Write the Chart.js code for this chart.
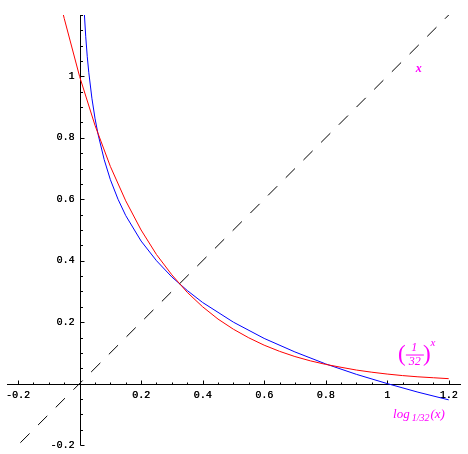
<!DOCTYPE html>
<html>
<head>
<meta charset="utf-8">
<script src="https://cdn.jsdelivr.net/npm/chart.js@4.4.0/dist/chart.umd.min.js"></script>
<style>
  body { margin: 0; background: #fff; }
  canvas { display: block; }
</style>
</head>
<body>
<canvas id="plot" width="468" height="454"></canvas>
<script>
// (1/32)^x
var redX = [-0.055, -0.05, 0, 0.05, 0.1, 0.15, 0.2, 0.25, 0.3, 0.35, 0.4, 0.45, 0.5, 0.55, 0.6,
            0.65, 0.7, 0.75, 0.8, 0.85, 0.9, 0.95, 1.0, 1.05, 1.1, 1.15, 1.2];
var redY = [1.210, 1.189, 1, 0.841, 0.707, 0.595, 0.5, 0.420, 0.354, 0.297, 0.25, 0.210, 0.177, 0.149, 0.125,
            0.105, 0.088, 0.074, 0.0625, 0.053, 0.044, 0.037, 0.031, 0.026, 0.022, 0.019, 0.016];

// log_{1/32}(x)
var blueX = [0.015, 0.02, 0.025, 0.03, 0.04, 0.05, 0.06, 0.08, 0.1, 0.125, 0.15, 0.2, 0.25, 0.3,
             0.35, 0.4, 0.5, 0.6, 0.7, 0.8, 0.9, 1.0, 1.1, 1.2];
var blueY = [1.212, 1.129, 1.064, 1.012, 0.929, 0.864, 0.812, 0.729, 0.664, 0.6, 0.547, 0.464, 0.4, 0.347,
             0.303, 0.264, 0.2, 0.147, 0.103, 0.064, 0.030, 0, -0.028, -0.053];

// y = x, dashed
var diagX = [-0.25, 1.25];
var diagY = [-0.25, 1.25];

var xTicks = [-0.2, 0.2, 0.4, 0.6, 0.8, 1, 1.2];
var yTicks = [-0.2, 0.2, 0.4, 0.6, 0.8, 1];
var minorStep = 0.05;

var magenta = '#ff00ff';

function pts(xs, ys) {
  var out = [];
  for (var i = 0; i < xs.length; i++) out.push({ x: xs[i], y: ys[i] });
  return out;
}

var axesPlugin = {
  id: 'axes',
  beforeDatasetsDraw: function (chart) {
    var c = chart.ctx, xs = chart.scales.x, ys = chart.scales.y;
    var x0 = Math.round(xs.getPixelForValue(0)) + 0.5;
    var y0 = Math.round(ys.getPixelForValue(0)) + 0.5;
    c.save();
    c.strokeStyle = '#000';
    c.lineWidth = 1;
    c.beginPath();
    c.moveTo(xs.left, y0); c.lineTo(xs.right, y0);
    c.moveTo(x0, ys.top); c.lineTo(x0, ys.bottom);
    // minor ticks
    var v, p;
    for (v = -0.2; v <= 1.2001; v += minorStep) {
      if (Math.abs(v) < 1e-6) continue;
      p = Math.round(xs.getPixelForValue(v)) + 0.5;
      c.moveTo(p, y0); c.lineTo(p, y0 - 2);
      p = Math.round(ys.getPixelForValue(v)) + 0.5;
      c.moveTo(x0, p); c.lineTo(x0 + 2.5, p);
    }
    // major ticks
    xTicks.forEach(function (t) {
      p = Math.round(xs.getPixelForValue(t)) + 0.5;
      c.moveTo(p, y0); c.lineTo(p, y0 - 4);
    });
    yTicks.forEach(function (t) {
      p = Math.round(ys.getPixelForValue(t)) + 0.5;
      c.moveTo(x0, p); c.lineTo(x0 + 4, p);
    });
    c.stroke();

    c.fillStyle = '#000';
    c.font = '10px "Liberation Mono"';
    c.textAlign = 'center';
    c.textBaseline = 'middle';
    xTicks.forEach(function (t) {
      c.fillText(String(t), xs.getPixelForValue(t), y0 + 11);
      c.fillText(String(t), xs.getPixelForValue(t) + 0.3, y0 + 11);
    });
    c.textAlign = 'right';
    yTicks.forEach(function (t) {
      c.fillText(String(t), x0 - 6, ys.getPixelForValue(t));
      c.fillText(String(t), x0 - 5.7, ys.getPixelForValue(t));
    });
    c.restore();
  },
  afterDatasetsDraw: function (chart) {
    var c = chart.ctx, xs = chart.scales.x, ys = chart.scales.y;
    c.save();
    c.fillStyle = magenta;
    c.textBaseline = 'middle';

    // x  (label of the diagonal)
    c.font = 'italic bold 12px "Liberation Serif"';
    c.textAlign = 'center';
    c.fillText('x', xs.getPixelForValue(1.103), ys.getPixelForValue(1.024));

    // (1/32)^x
    var fx = xs.getPixelForValue(1.090), fy = ys.getPixelForValue(0.093);
    c.font = 'italic 12px "Liberation Serif"';
    c.fillText('1', fx - 0.5, fy - 7);
    c.fillText('32', fx, fy + 7);
    c.fillRect(fx - 9, fy - 0.5, 18, 1);
    c.font = '23px "Liberation Serif"';
    c.fillText('(', fx - 13, fy);
    c.fillText(')', fx + 12, fy);
    c.font = 'italic 11px "Liberation Serif"';
    c.fillText('x', fx + 18, fy - 12);

    // log_{1/32}(x)
    var lx = xs.getPixelForValue(1.019), ly = ys.getPixelForValue(-0.1);
    c.textAlign = 'left';
    c.font = 'italic 13px "Liberation Serif"';
    c.fillText('log', lx, ly);
    var w = c.measureText('log').width;
    c.font = 'italic 10px "Liberation Serif"';
    c.fillText('1/32', lx + w + 2, ly + 4);
    var w2 = c.measureText('1/32').width;
    c.font = 'italic 13px "Liberation Serif"';
    c.fillText('(x)', lx + w + w2 + 3, ly);
    c.restore();
  }
};

new Chart(document.getElementById('plot'), {
  type: 'scatter',
  data: {
    datasets: [
      { data: pts(diagX, diagY), showLine: true, borderColor: '#000', borderWidth: 1,
        borderDash: [13, 12], pointRadius: 0 },
      { data: pts(redX, redY), showLine: true, borderColor: '#ff0000', borderWidth: 1,
        pointRadius: 0 },
      { data: pts(blueX, blueY), showLine: true, borderColor: '#0000ff', borderWidth: 1,
        pointRadius: 0 }
    ]
  },
  options: {
    responsive: false,
    animation: false,
    layout: { padding: { left: 7, right: 7, top: 15, bottom: 9 } },
    plugins: { legend: { display: false }, tooltip: { enabled: false } },
    scales: {
      x: { type: 'linear', min: -0.236, max: 1.24, display: false },
      y: { type: 'linear', min: -0.2, max: 1.2, display: false }
    }
  },
  plugins: [axesPlugin]
});
</script>
</body>
</html>
